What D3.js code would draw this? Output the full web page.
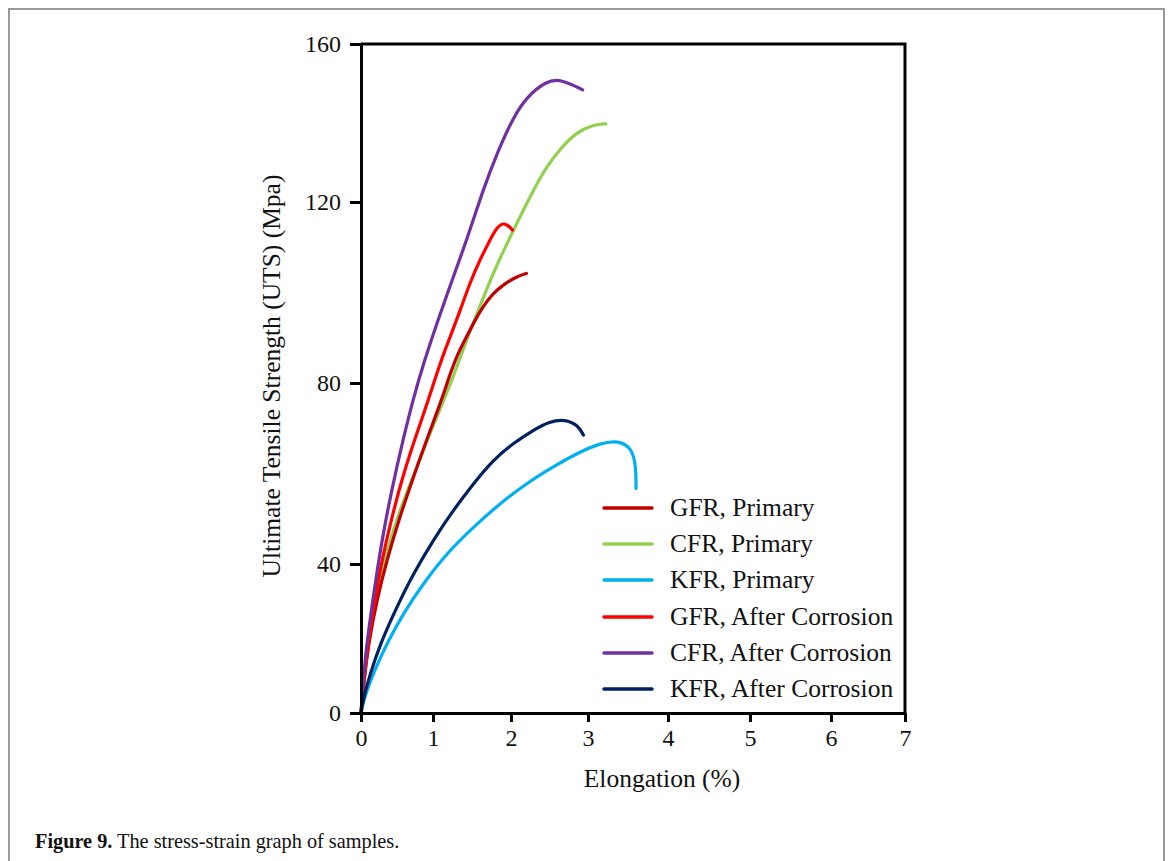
<!DOCTYPE html>
<html><head><meta charset="utf-8">
<script src="https://cdn.jsdelivr.net/npm/d3@7"></script>
<style>
html,body{margin:0;padding:0;background:#fff;}
svg{display:block;}
text{font-family:"Liberation Serif","Times New Roman",serif;fill:#111;}
</style></head>
<body>
<svg id="c" width="1170" height="861"></svg>
<script>
// ---- data (elongation %, stress MPa) ----
const seriesNames = ["GFR, Primary","CFR, Primary","KFR, Primary","GFR, After Corrosion","CFR, After Corrosion","KFR, After Corrosion"];
const seriesColors = ["#c00000","#92d050","#00b0f0","#ff0000","#7030a0","#002060"];
const xTicks = [0,1,2,3,4,5,6,7];
const yTicks = [0,40,80,120,160];

const gfrPrimary = [[0,0],[0.036,8.1],[0.105,18.8],[0.22,30.3],[0.36,40.9],[0.54,50.5],[0.73,59.3],[0.91,67.4],[1.11,76.2],[1.22,82.1],[1.32,86.6],[1.43,90.2],[1.54,93.9],[1.64,96.9],[1.77,99.8],[1.90,101.7],[2.07,103.5],[2.20,104.2]];
const cfrPrimary = [[0,0],[0.028,5.4],[0.105,19.6],[0.22,32.2],[0.36,43.1],[0.54,51.9],[0.775,61.5],[0.96,68.9],[1.11,75.0],[1.26,81.4],[1.43,89.5],[1.60,96.9],[1.77,104.3],[2.01,113.1],[2.29,123.0],[2.46,128.9],[2.64,133.5],[2.85,137.7],[3.07,139.6],[3.225,139.8]];
const kfrPrimary = [[0,0],[0.036,3.5],[0.17,10.7],[0.36,18.7],[0.59,26.8],[0.87,34.9],[1.177,42.4],[1.52,48.2],[1.86,53.4],[2.2,57.8],[2.55,61.5],[2.86,64.5],[3.15,66.7],[3.38,67.3],[3.55,65.6],[3.6,61.5],[3.6,56.7]];
const gfrCorrosion = [[0,0],[0.014,3.5],[0.06,12.4],[0.15,25.9],[0.27,39.3],[0.43,50.5],[0.59,60.0],[0.775,68.9],[0.935,76.2],[1.09,84.4],[1.22,90.2],[1.35,96.1],[1.47,102.0],[1.60,107.2],[1.73,111.6],[1.82,114.5],[1.92,115.6],[2.02,113.8]];
const cfrCorrosion = [[0,0],[0.014,3.5],[0.046,12.3],[0.10,21.5],[0.198,34.9],[0.308,46.9],[0.447,57.9],[0.585,67.5],[0.72,76.2],[0.87,84.4],[1.05,93.3],[1.26,103.4],[1.46,113.0],[1.64,123.0],[1.84,133.3],[2.03,141.4],[2.20,146.5],[2.46,150.7],[2.65,151.1],[2.93,148.4]];
const kfrCorrosion = [[0,0],[0.028,3.5],[0.13,10.7],[0.27,18.7],[0.50,28.6],[0.73,37.5],[1.004,45.3],[1.26,51.9],[1.52,57.8],[1.77,63.0],[2.03,66.7],[2.29,69.6],[2.50,71.5],[2.70,72.0],[2.87,70.7],[2.94,68.5]];
const seriesData = [gfrPrimary, cfrPrimary, kfrPrimary, gfrCorrosion, cfrCorrosion, kfrCorrosion];
// draw order (back to front)
const drawOrder = [1,0,3,4,2,5];

const svg = d3.select("#c");

// outer figure frame
svg.append("path")
  .attr("d","M9,870 L9,9 L1164,9 L1164,870")
  .attr("fill","none").attr("stroke","#9a9a9a").attr("stroke-width",2);

// scales (the source image axes are unevenly spaced)
const x = d3.scaleLinear().domain(xTicks).range([361,433,511,588,668,750,831,905]);
const y = d3.scaleLinear().domain(yTicks).range([713,564,383,202,44]);

// lines
const line = d3.line().x(d=>x(d[0])).y(d=>y(d[1])).curve(d3.curveBasis);
drawOrder.forEach(i=>{
  svg.append("path").datum(seriesData[i])
    .attr("d",line).attr("fill","none")
    .attr("stroke",seriesColors[i]).attr("stroke-width",3.2)
    .attr("stroke-linecap","round").attr("stroke-linejoin","round");
});

// plot box (top and right)
svg.append("path")
  .attr("d",`M${x(0)},${y(160)} L${x(7)},${y(160)} L${x(7)},${y(0)}`)
  .attr("fill","none").attr("stroke","#000").attr("stroke-width",3);

// x axis
const gx = svg.append("g").attr("transform",`translate(0,${y(0)})`)
  .call(d3.axisBottom(x).tickValues(xTicks).tickSize(9).tickSizeOuter(0).tickPadding(7).tickFormat(d3.format("d")));
gx.select(".domain").attr("stroke","#000").attr("stroke-width",3);
gx.selectAll(".tick line").attr("stroke","#000").attr("stroke-width",3);
gx.selectAll(".tick text").attr("font-size",24).attr("font-family","Liberation Serif").attr("fill","#111");

// y axis
const gy = svg.append("g").attr("transform",`translate(${x(0)},0)`)
  .call(d3.axisLeft(y).tickValues(yTicks).tickSize(11).tickSizeOuter(0).tickPadding(9).tickFormat(d3.format("d")));
gy.select(".domain").attr("stroke","#000").attr("stroke-width",3);
gy.selectAll(".tick line").attr("stroke","#000").attr("stroke-width",3);
gy.selectAll(".tick text").attr("font-size",24).attr("font-family","Liberation Serif").attr("fill","#111");

// axis titles
svg.append("text").attr("x",662).attr("y",787).attr("text-anchor","middle")
  .attr("font-size",25.5).text("Elongation (%)");
svg.append("text").attr("transform","translate(280,376) rotate(-90)").attr("text-anchor","middle")
  .attr("font-size",25.5).text("Ultimate Tensile Strength (UTS) (Mpa)");

// legend
const legendY = [508,544,580,617,653,689];
const lg = svg.append("g");
seriesNames.forEach((n,i)=>{
  lg.append("line").attr("x1",604).attr("x2",652).attr("y1",legendY[i]).attr("y2",legendY[i])
    .attr("stroke",seriesColors[i]).attr("stroke-width",3.5).attr("stroke-linecap","round");
  lg.append("text").attr("x",670).attr("y",legendY[i]+8).attr("font-size",25.5).text(n);
});

// caption
const cap = svg.append("text").attr("x",35).attr("y",848).attr("font-size",20.3);
cap.append("tspan").attr("font-weight","bold").text("Figure 9.");
cap.append("tspan").text(" The stress-strain graph of samples.");
</script>
</body></html>
